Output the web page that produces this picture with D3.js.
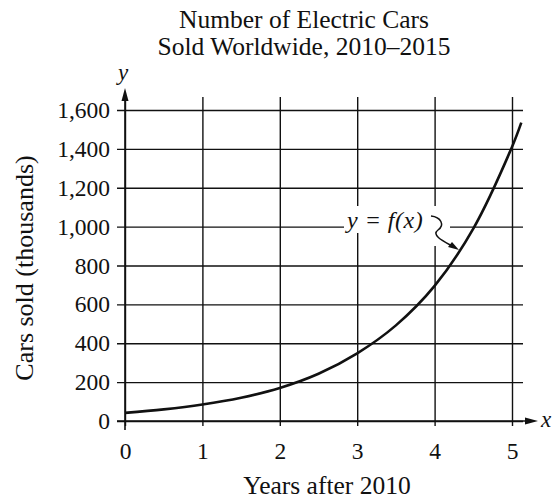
<!DOCTYPE html>
<html>

<head>
    <meta charset="UTF-8">
    <title>Number of Electric Cars Sold Worldwide, 2010-2015</title>
    <script src="https://d3js.org/d3.v7.min.js"></script>
    <style>
        body { margin: 0; background: #fff; }
        text { font-family: "Liberation Serif", "DejaVu Serif", serif; fill: #111; }
    </style>
</head>

<body>
    <div class="canvas"></div>

    <script>
        // values
        const years = [0, 0.5, 1, 1.5, 2, 2.5, 3, 3.5, 4, 4.5, 5, 5.12];
        const sales = [42, 60, 85, 120, 170, 243, 348, 492, 695, 990, 1410, 1535];
        const xTicks = [0, 1, 2, 3, 4, 5];
        const yTicks = [0, 200, 400, 600, 800, 1000, 1200, 1400, 1600];
        const titleLines = ["Number of Electric Cars", "Sold Worldwide, 2010\u20132015"];

        const width = 555;
        const height = 500;
        const ink = "#111";

        const svg = d3.select(".canvas")
            .append("svg")
            .attr("width", width)
            .attr("height", height);

        // scales
        const x = d3.scaleLinear().domain([0, 5]).range([125, 512]);
        const y = d3.scaleLinear().domain([0, 1600]).range([421, 110]);

        // title
        svg.selectAll(".title")
            .data(titleLines)
            .enter()
            .append("text")
            .attr("class", "title")
            .attr("x", 304)
            .attr("y", (d, i) => 28 + i * 27)
            .attr("text-anchor", "middle")
            .style("font-size", "25.5px")
            .text(d => d);

        // horizontal grid + y tick labels
        const yAxis = d3.axisLeft(y)
            .tickValues(yTicks)
            .tickSizeInner(-(523 - 117))
            .tickSizeOuter(0)
            .tickPadding(7)
            .tickFormat(d3.format(","));

        const yAxisGroup = svg.append("g")
            .attr("transform", "translate(117, 0)")
            .call(yAxis);

        // vertical grid + x tick labels
        const xAxis = d3.axisBottom(x)
            .tickValues(xTicks)
            .tickSizeInner(-(426 - 97))
            .tickSizeOuter(0)
            .tickPadding(16)
            .tickFormat(d3.format("d"));

        const xAxisGroup = svg.append("g")
            .attr("transform", "translate(0, 426)")
            .call(xAxis);

        [yAxisGroup, xAxisGroup].forEach(g => {
            g.select(".domain").remove();
            g.selectAll("line").attr("stroke", ink).attr("stroke-width", 1.4);
            g.selectAll("text")
                .style("font-family", "'Liberation Serif', serif")
                .style("font-size", "23.5px")
                .attr("fill", ink);
        });
        yAxisGroup.selectAll("text").attr("dy", "0.32em");

        // axes with arrows
        svg.append("line")
            .attr("x1", x(0)).attr("x2", x(0))
            .attr("y1", 430).attr("y2", 98)
            .attr("stroke", ink).attr("stroke-width", 1.6);
        svg.append("path")
            .attr("d", `M${x(0)},88 L${x(0) - 3.5},101 L${x(0) + 3.5},101 Z`)
            .attr("fill", ink);

        svg.append("line")
            .attr("x1", 117).attr("x2", 528)
            .attr("y1", y(0)).attr("y2", y(0))
            .attr("stroke", ink).attr("stroke-width", 1.6);
        svg.append("path")
            .attr("d", `M538,${y(0)} L525,${y(0) - 3.5} L525,${y(0) + 3.5} Z`)
            .attr("fill", ink);

        svg.append("text")
            .attr("x", 123).attr("y", 80)
            .attr("text-anchor", "middle")
            .style("font-size", "23px")
            .style("font-style", "italic")
            .text("y");

        svg.append("text")
            .attr("x", 541).attr("y", y(0) + 6)
            .style("font-size", "23px")
            .style("font-style", "italic")
            .text("x");

        // axis titles
        svg.append("text")
            .attr("transform", "translate(33, 268) rotate(-90)")
            .attr("text-anchor", "middle")
            .style("font-size", "26px")
            .text("Cars sold (thousands)");

        svg.append("text")
            .attr("x", 327).attr("y", 494)
            .attr("text-anchor", "middle")
            .style("font-size", "25.5px")
            .text("Years after 2010");

        // the curve
        const points = years.map((d, i) => [d, sales[i]]);
        const line = d3.line()
            .x(d => x(d[0]))
            .y(d => y(d[1]))
            .curve(d3.curveCatmullRom);

        svg.append("path")
            .datum(points)
            .attr("d", line)
            .attr("fill", "none")
            .attr("stroke", ink)
            .attr("stroke-width", 2.6);

        // curve label with white patch behind it
        svg.append("path")
            .attr("d", "M344,206 L450,206 L450,233 L441,233 L441,246 L429,246 L429,233 L344,233 Z")
            .attr("fill", "#fff");

        svg.append("text")
            .attr("x", 347).attr("y", 228)
            .style("font-size", "24px")
            .style("font-style", "italic")
            .style("letter-spacing", "0.5px")
            .text("y = f(x)");

        // squiggly leader
        svg.append("path")
            .attr("d", "M431,216 C441,217 445,225 438,230 C431,235 443,241 452,246")
            .attr("fill", "none")
            .attr("stroke", ink)
            .attr("stroke-width", 1.5);
        svg.append("path")
            .attr("d", "M459,250 L448,247 L452,242 Z")
            .attr("fill", ink);
    </script>
</body>

</html>
